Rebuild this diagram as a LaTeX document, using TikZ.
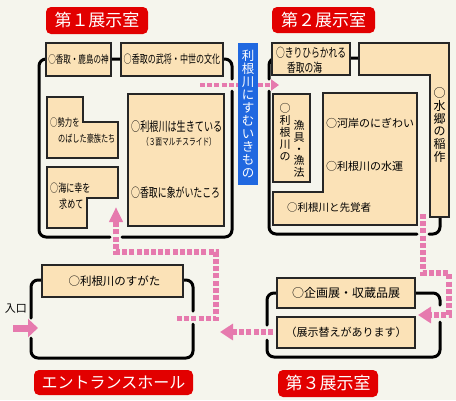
\documentclass[tikz,border=0pt]{standalone}
\usepackage{fontspec}
\newfontfamily\jp{Noto Sans CJK JP}
\newfontfamily\jpn[FakeStretch=0.7]{Noto Sans CJK JP}
\usepackage{tikz}
\usetikzlibrary{arrows.meta}

\definecolor{bgpaper}{RGB}{245,245,237}
\definecolor{boxtan}{RGB}{251,226,183}
\definecolor{titlered}{RGB}{226,0,0}
\definecolor{labelblue}{RGB}{32,104,224}
\definecolor{pathpink}{RGB}{230,122,174}

\tikzset{
  wall/.style={line width=3pt, rounded corners=7pt, line cap=round},
  exbox/.style={draw=black!85, fill=boxtan, line width=1.1pt, inner sep=0pt},
  jtext/.style={inner sep=0pt},
  vtext/.style={inner sep=0pt, align=center},
  roomtitle/.style={fill=titlered, rounded corners=5pt, text=white, inner sep=0pt},
  route/.style={draw=pathpink, line width=5.5pt, dash pattern=on 5pt off 2.2pt,
    -{Triangle[length=13pt,width=16pt]}},
  entry/.style={draw=pathpink, line width=7pt, -{Triangle[length=10pt,width=18pt]}}
}

\begin{document}
\begin{tikzpicture}[x=1pt, y=-1pt]
\useasboundingbox (0,0) rectangle (456,400);
\fill[bgpaper] (0,0) rectangle (456,400);

% walls
\draw[wall] (232,91) -- (232,237) -- (122,237);
\draw[wall] (110,237) -- (39,237) -- (39,59) -- (232,59) -- (232,79);
\draw[wall] (269,91) -- (269,234) -- (417,234);
\draw[wall] (429,234) -- (440,234) -- (440,58) -- (269,58) -- (269,79);
\draw[wall] (267,325) -- (267,293) -- (440,293) -- (440,305);
\draw[wall] (440,322) -- (440,357) -- (267,357) -- (267,340);
\draw[wall] (31,318) -- (31,280) -- (193,280) -- (193,311);
\draw[wall] (193,324) -- (193,358) -- (31,358) -- (31,338);

% room 1
\node[exbox, minimum width=65pt, minimum height=33pt, font=\jpn\fontsize{10.8}{12}\selectfont] (kashima) at (78.5,59.5) {○香取・鹿島の神};
\node[exbox, minimum width=102pt, minimum height=33pt, font=\jpn\fontsize{11.5}{13}\selectfont] (bushou) at (172,59.5) {○香取の武将・中世の文化};
\filldraw[exbox] (47,97) -- (83,97) -- (83,122) -- (118,122) -- (118,158) -- (47,158) -- cycle;
\node[jtext, anchor=west, font=\jpn\fontsize{10.5}{12}\selectfont] (gouzoku1) at (50,123) {○勢力を};
\node[jtext, anchor=west, font=\jpn\fontsize{10.2}{12}\selectfont] (gouzoku2) at (58,139) {のばした豪族たち};
\filldraw[exbox] (47,167) -- (118,167) -- (118,198) -- (87,198) -- (87,228) -- (47,228) -- cycle;
\node[jtext, anchor=west, font=\jpn\fontsize{11.5}{13}\selectfont] (sachi1) at (50,188) {○海に幸を};
\node[jtext, anchor=west, font=\jpn\fontsize{11.5}{13}\selectfont] (sachi2) at (59,204) {求めて};
\node[exbox, minimum width=96pt, minimum height=132pt] (slide) at (176,160) {};
\node[jtext, anchor=west, font=\jpn\fontsize{13}{15}\selectfont] (ikiteiru) at (131,127) {○利根川は生きている};
\node[jtext, font=\jpn\fontsize{9.6}{11}\selectfont] (multi) at (179,142) {（３面マルチスライド）};
\node[jtext, anchor=west, font=\jpn\fontsize{12.7}{15}\selectfont] (zou) at (131,193) {○香取に象がいたころ};

% room 2
\node[exbox, minimum width=78pt, minimum height=32pt] (umibox) at (311,59) {};
\node[jtext, anchor=west, font=\jpn\fontsize{12.5}{14}\selectfont] (umi1) at (276,53) {○きりひらかれる};
\node[jtext, anchor=west, font=\jpn\fontsize{12.5}{14}\selectfont] (umi2) at (287,68) {香取の海};
\filldraw[exbox] (359,43) -- (449,43) -- (449,217) -- (430,217) -- (430,75) -- (359,75) -- cycle;
\node[vtext, font=\jp\fontsize{12}{12.7}\selectfont] (inasaku) at (439.5,125) {○\\水\\郷\\の\\稲\\作};
\node[exbox, minimum width=37pt, minimum height=88pt] (gyobox) at (291.5,138) {};
\node[vtext, font=\jp\fontsize{11}{12}\selectfont] (gyogu1) at (285,132.5) {○\\利\\根\\川\\の};
\node[vtext, font=\jp\fontsize{11}{11.6}\selectfont] (gyogu2) at (299,149) {漁\\具\\・\\漁\\法};
\filldraw[exbox] (323,93) -- (417,93) -- (417,225) -- (273,225) -- (273,192) -- (323,192) -- cycle;
\node[jtext, anchor=west, font=\jp\fontsize{11}{13}\selectfont] (kashi) at (326,123) {○河岸のにぎわい};
\node[jtext, anchor=west, font=\jp\fontsize{11}{13}\selectfont] (suiun) at (326,166) {○利根川の水運};
\node[jtext, anchor=west, font=\jp\fontsize{10.5}{13}\selectfont] (senkaku) at (287,208) {○利根川と先覚者};

% room 3
\node[exbox, minimum width=138pt, minimum height=30pt, font=\jp\fontsize{12}{14}\selectfont] (kikaku) at (346,293) {○企画展・収蔵品展};
\node[exbox, minimum width=138pt, minimum height=31pt, font=\jp\fontsize{11}{13}\selectfont] (kawari) at (346,332.5) {（展示替えがあります）};

% entrance hall
\node[exbox, minimum width=141pt, minimum height=32pt, font=\jp\fontsize{11.5}{13}\selectfont] (sugata) at (112.5,281) {\hspace{4pt}○利根川のすがた};
\node[jtext, font=\jp\fontsize{11}{13}\selectfont] (iriguchi) at (16,309) {入口};

% routes
\coordinate (r1out) at (200,85);
\coordinate (r2in) at (279,85);
\coordinate (r2out) at (423,214);
\coordinate (r3in) at (418,315);
\coordinate (r3out) at (273,332);
\coordinate (hallin) at (220,332);
\coordinate (hallout) at (177,318.5);
\coordinate (r1in) at (116,207);
\coordinate (door) at (13,328);
\coordinate (doorin) at (38,328);
\draw[route, line width=4.5pt, -{Triangle[length=8pt,width=11pt]}] (r1out) -- (r2in);
\draw[route] (r2out) |- (449,273) |- (r3in);
\draw[route] (r3out) -- (hallin);
\draw[route, -{Triangle[length=15pt,width=13pt]}] (hallout) -| (216,252) -| (r1in);
\draw[entry] (door) -- (doorin);

% labels
\node[fill=labelblue, minimum width=20pt, minimum height=142pt, inner sep=0pt, text=white, align=center, font=\jp\fontsize{12.5}{13}\selectfont] (ikimono) at (248,114) {利\\根\\川\\に\\す\\む\\い\\き\\も\\の};
\node[roomtitle, minimum width=102pt, minimum height=27pt, font=\jp\fontsize{17}{20}\selectfont] (title1) at (97,20.5) {第１展示室};
\node[roomtitle, minimum width=103pt, minimum height=26pt, font=\jp\fontsize{17}{20}\selectfont] (title2) at (323.5,20) {第２展示室};
\node[roomtitle, minimum width=100pt, minimum height=27pt, font=\jp\fontsize{17}{20}\selectfont] (title3) at (328,383.5) {第３展示室};
\node[roomtitle, minimum width=159pt, minimum height=25pt, font=\jp\fontsize{16}{19}\selectfont] (hall) at (113.5,382.5) {エントランスホール};
\end{tikzpicture}
\end{document}
